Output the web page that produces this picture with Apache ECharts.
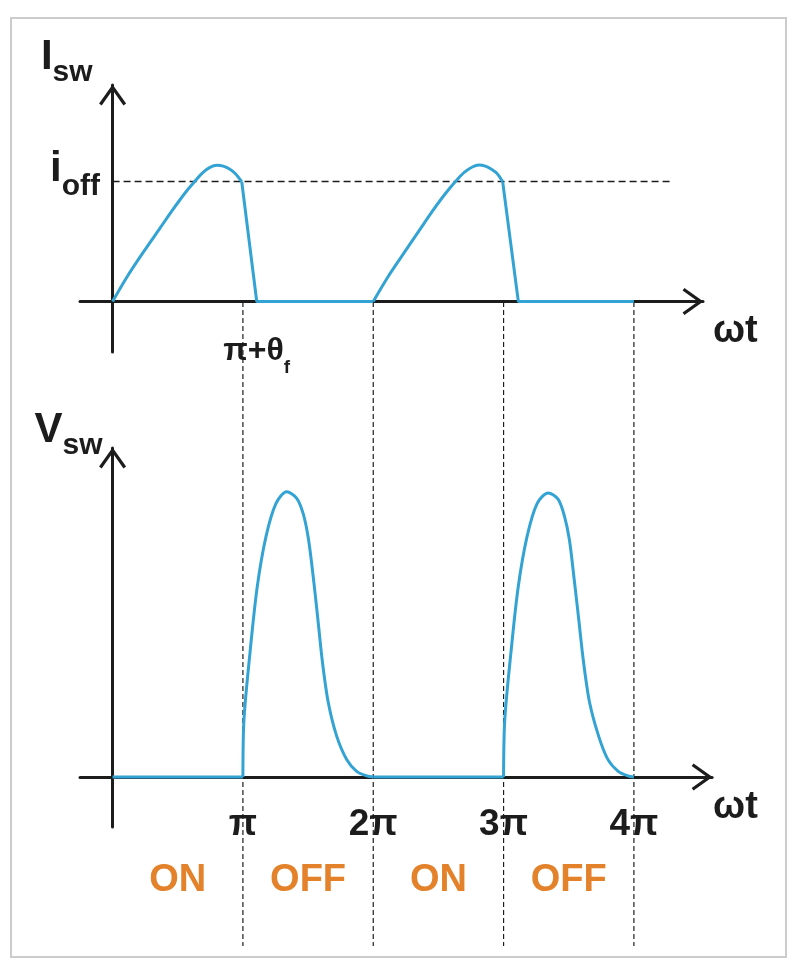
<!DOCTYPE html>
<html>
<head>
<meta charset="utf-8">
<script src="https://cdn.jsdelivr.net/npm/echarts@6/dist/echarts.min.js"></script>
<style>html,body{margin:0;padding:0;background:#fff;}#c{width:809px;height:967px;}</style>
</head>
<body>
<div id="c"></div>
<script>
// ---- data (x in units of π, i.e. ωt/π; I_sw in units of i_off; V_sw relative to its peak) ----
const iSwArc1  = [[0,0],[0.108,0.20],[0.236,0.41],[0.364,0.61],[0.45,0.745],[0.52,0.85],[0.58,0.935],[0.64,1.01],[0.69,1.07],[0.747,1.115],[0.80,1.132],[0.849,1.125],[0.90,1.10],[0.939,1.066],[0.991,0.996]];
const iSwFall1 = [[0.991,0.996],[1.106,0],[2.0,0]];
const iSwArc2  = [[2.0,0],[2.11,0.20],[2.24,0.41],[2.365,0.61],[2.45,0.745],[2.52,0.85],[2.585,0.94],[2.645,1.015],[2.70,1.075],[2.76,1.118],[2.81,1.135],[2.86,1.126],[2.91,1.098],[2.95,1.064],[2.993,0.996]];
const iSwFall2 = [[2.993,0.996],[3.113,0],[4.0,0]];

const vSwFlat1  = [[0,0],[1,0]];
const vSwPulse1 = [[1.0,0],[1.008,0.201],[1.054,0.436],[1.110,0.670],[1.177,0.846],[1.254,0.963],[1.336,1.004],[1.413,0.981],[1.463,0.926],[1.502,0.840],[1.540,0.703],[1.575,0.556],[1.61,0.405],[1.655,0.262],[1.720,0.143],[1.796,0.062],[1.873,0.020],[1.950,0.004],[2.0,0]];
const vSwFlat2  = [[2,0],[3,0]];
const vSwPulse2 = [[3.0,0],[3.009,0.2],[3.056,0.436],[3.112,0.668],[3.18,0.846],[3.258,0.963],[3.343,1.0],[3.418,0.978],[3.466,0.92],[3.505,0.835],[3.542,0.695],[3.578,0.55],[3.612,0.41],[3.66,0.262],[3.73,0.143],[3.80,0.062],[3.88,0.02],[3.955,0.004],[4.0,0]];

const iOff = 1;
const iOffLineEnd = 4.3;

const topTickValues = [1.106];
const topTickLabels = [['π+θ', 'f']];

const phaseTicks = [1, 2, 3, 4];
const phaseTickLabels = ['π', '2π', '3π', '4π'];

const dividers = [1, 2, 3, 4];
const stateCenters = [0.5, 1.5, 2.5, 3.5];
const stateLabels = ['ON', 'OFF', 'ON', 'OFF'];

// ---- styling ----
const FONT = '"Liberation Sans", Arial, sans-serif';
const BLUE = '#33a3d4';
const INK = '#1c1c1c';
const ORANGE = '#e3822a';
const CHEVRON = 'path://M13.5,0L27,19L24.4,20.85L13.5,5.5L2.6,20.85L0,19Z';

function axisLineStyle() {
  return {
    show: true, onZero: true,
    symbol: ['none', CHEVRON], symbolSize: [27, 21], symbolOffset: [0, -10],
    lineStyle: { color: INK, width: 3 }
  };
}

function curve(data, idx, smooth) {
  return {
    type: 'line', xAxisIndex: idx, yAxisIndex: idx, data: data,
    smooth: smooth || false, symbol: 'none', silent: true, z: 5,
    lineStyle: { color: BLUE, width: 3 }
  };
}

const subRich = (big, small, pad) => ({
  a: { fontSize: big, lineHeight: big, padding: [0, 0, pad, 0], verticalAlign: 'bottom', fontFamily: FONT, fontWeight: 'bold', color: INK },
  b: { fontSize: small, lineHeight: small, verticalAlign: 'bottom', fontFamily: FONT, fontWeight: 'bold', color: INK }
});

const series = [
  Object.assign(curve(iSwArc1, 0, 0.3), {
    markLine: {
      symbol: 'none', silent: true, label: { show: false },
      lineStyle: { type: [7, 4], color: INK, width: 1.3 },
      data: [[{ coord: [0, iOff] }, { coord: [iOffLineEnd, iOff] }]]
    }
  }),
  curve(iSwFall1, 0, false),
  curve(iSwArc2, 0, 0.3),
  curve(iSwFall2, 0, false),
  curve(vSwFlat1, 1, false),
  curve(vSwPulse1, 1, 0.3),
  curve(vSwFlat2, 1, false),
  curve(vSwPulse2, 1, 0.3)
];

dividers.forEach(d => {
  series.push({
    type: 'line', xAxisIndex: 2, yAxisIndex: 2, data: [[d, 0], [d, 1]],
    symbol: 'none', silent: true, z: 3,
    lineStyle: { color: INK, width: 1.2, type: [5, 3] }
  });
});

series.push({
  type: 'scatter', xAxisIndex: 2, yAxisIndex: 2,
  data: stateCenters.map(x => [x, 0.899]),
  symbolSize: 2, itemStyle: { color: 'rgba(0,0,0,0)' }, silent: true, z: 6,
  label: {
    show: true, position: 'inside', opacity: 1, textBorderWidth: 0,
    formatter: p => stateLabels[p.dataIndex],
    fontFamily: FONT, fontSize: 38, fontWeight: 'bold', color: ORANGE
  }
});

const option = {
  animation: false,
  backgroundColor: '#ffffff',
  grid: [
    { left: 80, top: 85, width: 623.0, height: 267 },
    { left: 80, top: 448, width: 632.1, height: 379 },
    { left: 80, top: 302, width: 632.1, height: 644 }
  ],
  xAxis: [
    {
      type: 'value', gridIndex: 0, min: -0.25, max: 4.53,
      axisLine: axisLineStyle(), axisTick: { show: false }, splitLine: { show: false },
      axisLabel: {
        show: true, customValues: topTickValues, margin: -7,
        formatter: v => {
          const i = topTickValues.indexOf(v);
          const l = topTickLabels[i >= 0 ? i : 0];
          return '{a|' + l[0] + '}{b|' + l[1] + '}';
        },
        rich: subRich(32, 19, 10)
      },
      name: 'ωt', nameLocation: 'end', nameGap: 10,
      nameTextStyle: { fontFamily: FONT, fontSize: 38, fontWeight: 'bold', color: INK, align: 'left', verticalAlign: 'top', padding: [11, 0, 0, 0] }
    },
    {
      type: 'value', gridIndex: 1, min: -0.25, max: 4.6,
      axisLine: axisLineStyle(), axisTick: { show: false }, splitLine: { show: false },
      axisLabel: {
        show: true, customValues: phaseTicks, margin: -21,
        formatter: v => phaseTickLabels[phaseTicks.indexOf(v)],
        fontFamily: FONT, fontSize: 37, fontWeight: 'bold', color: INK
      },
      name: 'ωt', nameLocation: 'end', nameGap: 1,
      nameTextStyle: { fontFamily: FONT, fontSize: 38, fontWeight: 'bold', color: INK, align: 'left', verticalAlign: 'top', padding: [12, 0, 0, 0] }
    },
    {
      type: 'value', gridIndex: 2, min: -0.25, max: 4.6, show: false
    }
  ],
  yAxis: [
    {
      type: 'value', gridIndex: 0, min: -0.42, max: 1.8,
      axisLine: axisLineStyle(), axisTick: { show: false }, splitLine: { show: false },
      axisLabel: {
        show: true, customValues: [iOff], margin: -20, padding: [0, 0, 0, 0],
        formatter: () => '{a|i}{b|off}',
        rich: subRich(42, 30, 12)
      },
      name: '{a|I}{b|sw}', nameLocation: 'end', nameGap: -3,
      nameTextStyle: { align: 'right', verticalAlign: 'bottom', padding: [0, 20, 0, 0], rich: subRich(42, 30, 10) }
    },
    {
      type: 'value', gridIndex: 1, min: -0.176, max: 1.158,
      axisLine: axisLineStyle(), axisTick: { show: false }, splitLine: { show: false },
      axisLabel: { show: false },
      name: '{a|V}{b|sw}', nameLocation: 'end', nameGap: -13,
      nameTextStyle: { align: 'right', verticalAlign: 'bottom', padding: [0, 10, 0, 0], rich: subRich(42, 30, 10) }
    },
    {
      type: 'value', gridIndex: 2, min: 0, max: 1, inverse: true, show: false
    }
  ],
  graphic: [
    {
      type: 'rect', silent: true, z: 0,
      shape: { x: 11, y: 18, width: 775, height: 939 },
      style: { fill: 'none', stroke: '#cccccc', lineWidth: 2 }
    }
  ],
  series: series
};

const chart = echarts.init(document.getElementById('c'), null, { renderer: 'canvas' });
chart.setOption(option);
</script>
</body>
</html>
